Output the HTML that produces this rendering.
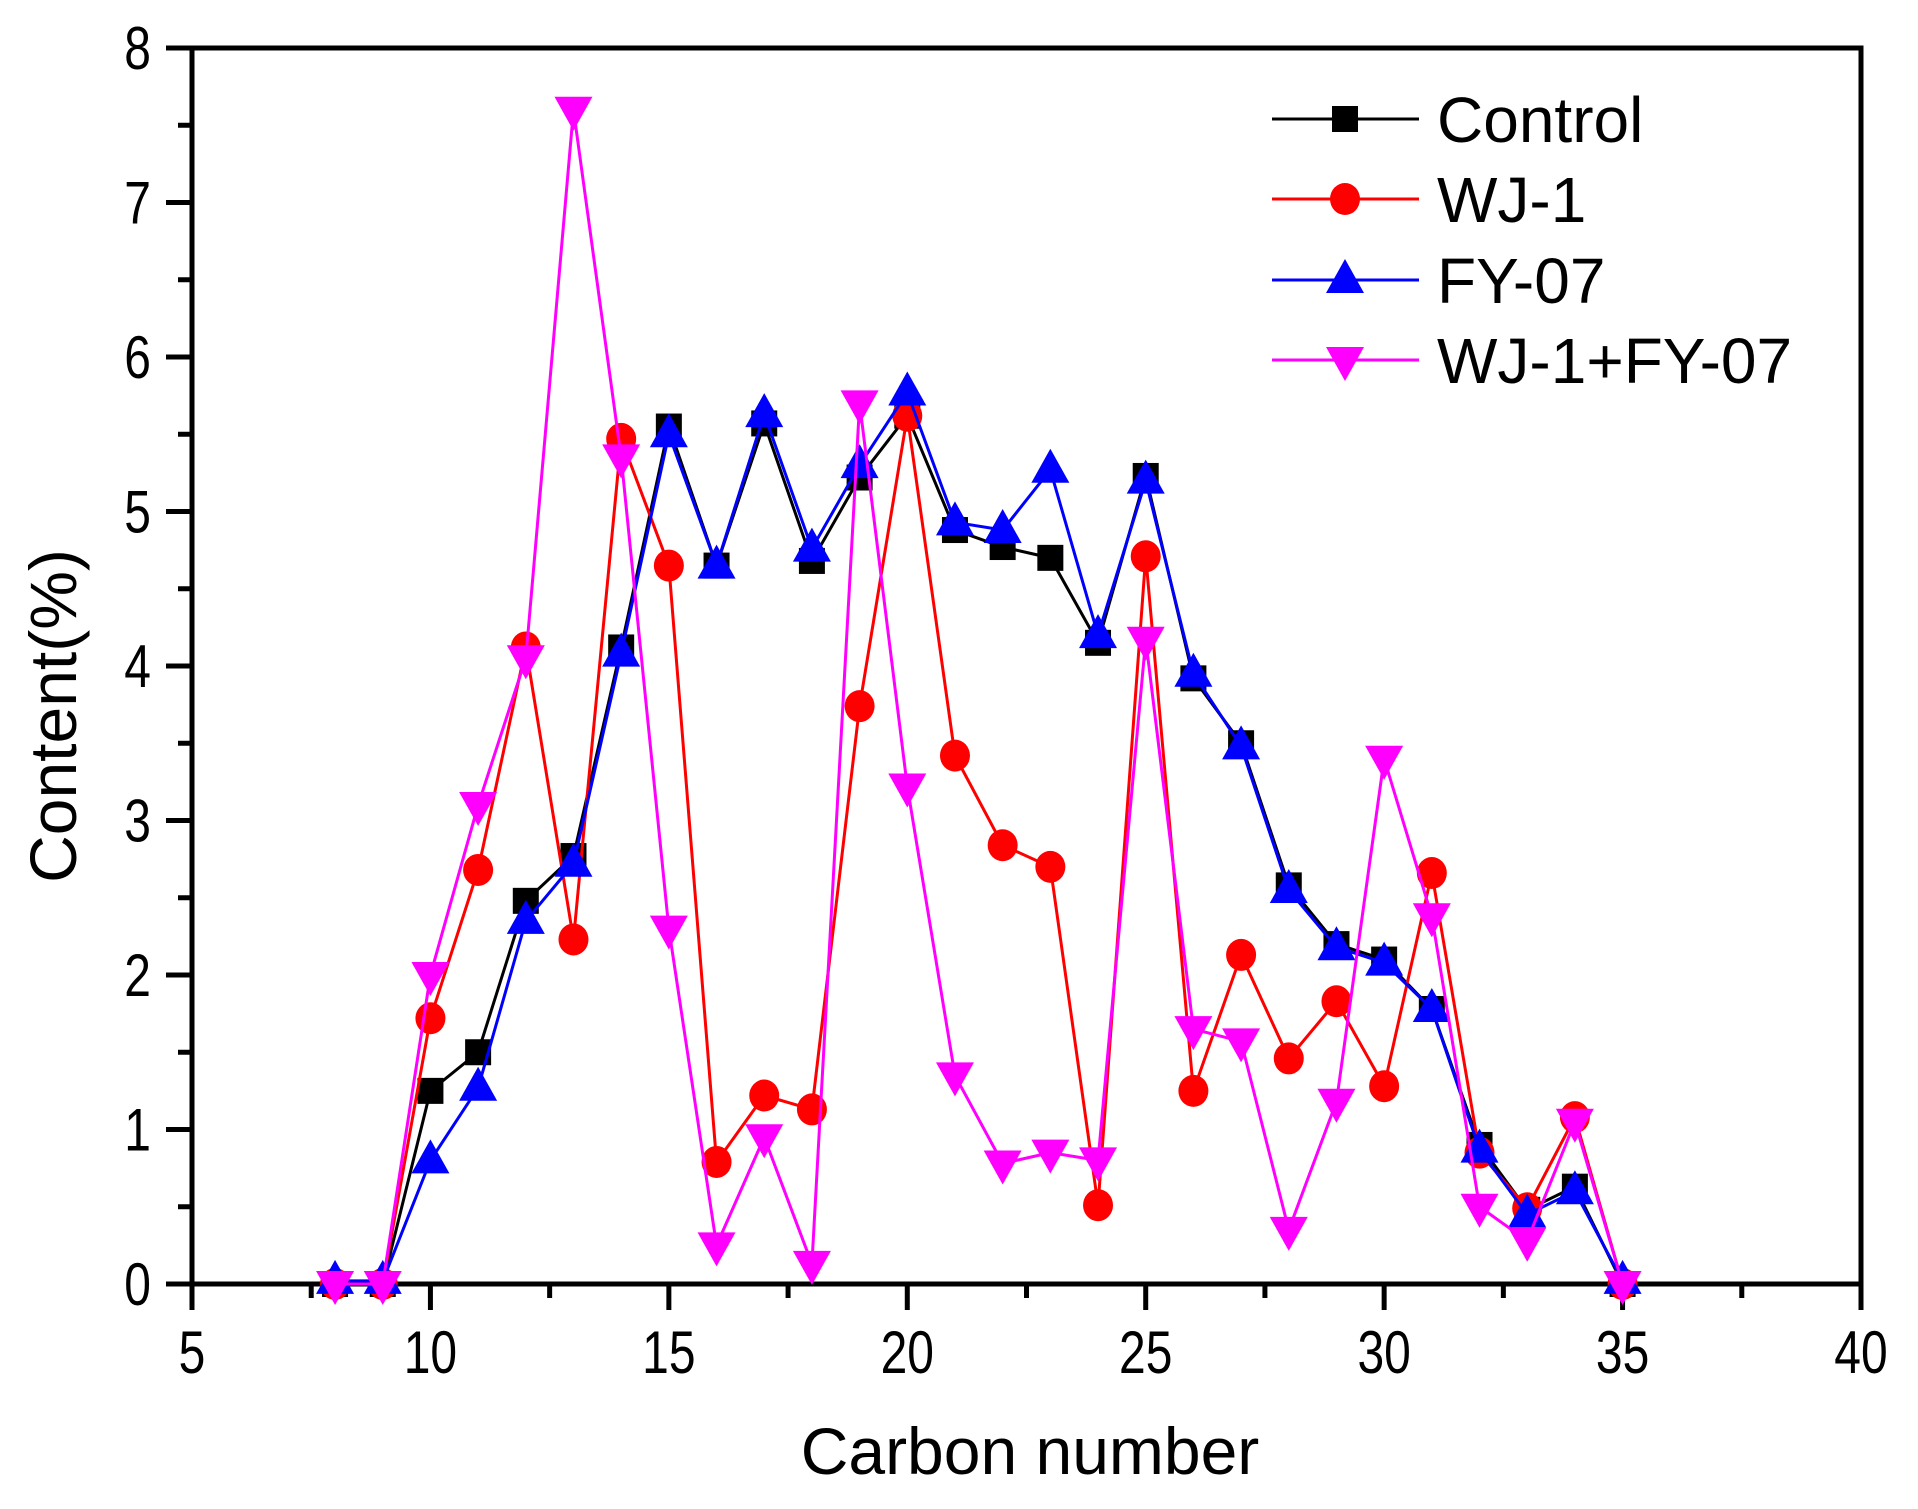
<!DOCTYPE html>
<html><head><meta charset="utf-8"><style>
html,body{margin:0;padding:0;background:#fff;}
svg{display:block;font-family:"Liberation Sans",Arial,sans-serif;}
</style></head><body>
<svg id="chart" width="1918" height="1509" viewBox="0 0 1918 1509" xmlns="http://www.w3.org/2000/svg">
<g id="axes"></g>
<g id="series"></g>
<g id="legend"></g>
</svg>
<script>
const carbon = [8,9,10,11,12,13,14,15,16,17,18,19,20,21,22,23,24,25,26,27,28,29,30,31,32,33,34,35];
const controlVals = [0,0,1.25,1.5,2.48,2.77,4.12,5.55,4.65,5.57,4.68,5.22,5.62,4.88,4.77,4.7,4.15,5.23,3.92,3.5,2.58,2.2,2.1,1.78,0.9,0.48,0.63,0];
const wj1Vals = [0,0,1.72,2.68,4.12,2.23,5.47,4.65,0.79,1.22,1.13,3.74,5.62,3.42,2.84,2.7,0.51,4.71,1.25,2.13,1.46,1.83,1.28,2.66,0.85,0.49,1.08,0];
const fy07Vals = [0.02,0.02,0.8,1.27,2.35,2.72,4.08,5.5,4.65,5.63,4.76,5.3,5.77,4.93,4.88,5.27,4.2,5.2,3.95,3.48,2.55,2.18,2.08,1.78,0.87,0.45,0.6,0.02];
const comboVals = [0,0,2.0,3.1,4.05,7.6,5.35,2.3,0.25,0.95,0.13,5.7,3.22,1.35,0.78,0.85,0.8,4.17,1.65,1.57,0.35,1.18,3.4,2.38,0.5,0.28,1.05,0];
const xTicks = [5,10,15,20,25,30,35,40];
const yTicks = [0,1,2,3,4,5,6,7,8];
const seriesNames = ["Control","WJ-1","FY-07","WJ-1+FY-07"];

const NS="http://www.w3.org/2000/svg";
const L=192,R=1861,T=48,B=1284;
const xs=v=>L+(v-5)/(40-5)*(R-L);
const ys=v=>B-v/8*(B-T);
function mk(tag,attrs,parent){const e=document.createElementNS(NS,tag);for(const k in attrs)e.setAttribute(k,attrs[k]);parent.appendChild(e);return e;}
const axes=document.getElementById('axes');
const frame=mk('rect',{x:L,y:T,width:R-L,height:B-T,fill:'none',stroke:'#000','stroke-width':5},axes);


xTicks.forEach(t=>{
  const tk=mk('line',{x1:xs(t),x2:xs(t),y1:B,y2:B+26,stroke:'#000','stroke-width':5},axes);
  
  
  if(t<40){const m=mk('line',{x1:xs(t+2.5),x2:xs(t+2.5),y1:B,y2:B+14,stroke:'#000','stroke-width':5},axes);
  
  }
  const tx=mk('text',{x:0,y:0,'text-anchor':'middle','font-size':60,transform:`translate(${xs(t)},1373) scale(0.8,1)`},axes);
  tx.textContent=t;
  
  
});
yTicks.forEach(t=>{
  const tk=mk('line',{x1:L-26,x2:L,y1:ys(t),y2:ys(t),stroke:'#000','stroke-width':5},axes);
  
  
  if(t<8){const m=mk('line',{x1:L-14,x2:L,y1:ys(t+0.5),y2:ys(t+0.5),stroke:'#000','stroke-width':5},axes);
  
  }
  const tx=mk('text',{x:0,y:0,'text-anchor':'end','font-size':60,transform:`translate(151,${ys(t)+21}) scale(0.8,1)`},axes);
  tx.textContent=t;
  
  
});
const xt=mk('text',{x:1030,y:1474,'text-anchor':'middle','font-size':66},axes);
xt.textContent='Carbon number';


const yt=mk('text',{x:0,y:0,'text-anchor':'middle','font-size':66,transform:'translate(76,716) rotate(-90)'},axes);
yt.textContent='Content(%)';



const colors=['#000','#ff0000','#0000ff','#ff00ff'];
const shapes=['square','circle','up','down'];
function marker(shape,cx,cy,color,parent){
  if(shape==='square') return mk('rect',{x:cx-13,y:cy-13,width:26,height:26,fill:color},parent);
  if(shape==='circle') return mk('ellipse',{cx:cx,cy:cy,rx:15,ry:16,fill:color},parent);
  if(shape==='up') return mk('polygon',{points:`${cx},${cy-21} ${cx-19},${cy+13} ${cx+19},${cy+13}`,fill:color},parent);
  return mk('polygon',{points:`${cx},${cy+21} ${cx-19},${cy-13} ${cx+19},${cy-13}`,fill:color},parent);
}
const allVals=[controlVals,wj1Vals,fy07Vals,comboVals];
const sg=document.getElementById('series');
allVals.forEach((vals,i)=>{
  const g=mk('g',{},sg);
  
  
  const pts=carbon.map((c,j)=>xs(c)+','+ys(vals[j])).join(' ');
  const pl=mk('polyline',{points:pts,fill:'none',stroke:colors[i],'stroke-width':3},g);
  
  
  carbon.forEach((c,j)=>{
    const m=marker(shapes[i],xs(c),ys(vals[j]),colors[i],g);
    
    
  });
});
const lg=document.getElementById('legend');
const rowsY=[119,199,280,360];
seriesNames.forEach((n,i)=>{
  const g=mk('g',{},lg);
  
  
  mk('line',{x1:1272,x2:1419,y1:rowsY[i],y2:rowsY[i],stroke:colors[i],'stroke-width':3},g);
  marker(shapes[i],1345,rowsY[i],colors[i],g);
  const t=mk('text',{x:1437,y:rowsY[i]+23,'font-size':64},g);
  t.textContent=n;
  
  
});
</script>
</body></html>
